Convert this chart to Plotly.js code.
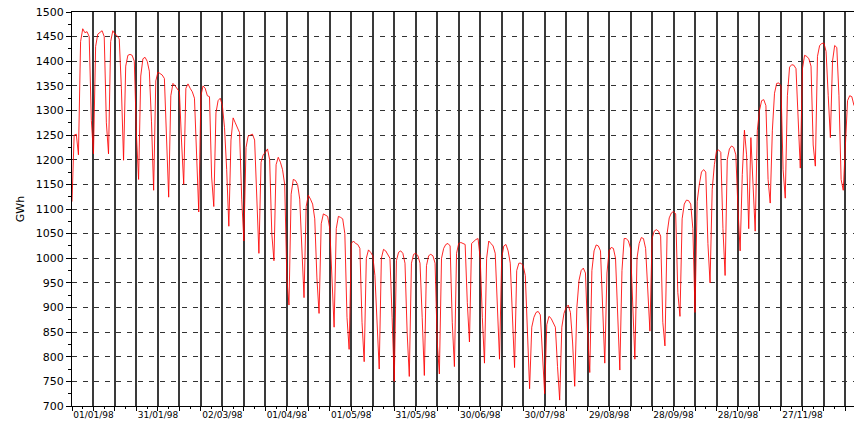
<!DOCTYPE html>
<html>
<head>
<meta charset="utf-8">
<script src="https://cdn.plot.ly/plotly-3.0.1.min.js"></script>
<style>
html,body{margin:0;padding:0;background:#fff;}
#chart{width:854px;height:421px;}
</style>
</head>
<body>
<div id="chart"></div>
<script>
// Daily electricity consumption (GWh).
// First value is 22/12/1997, one value per day.
const startDate = '1997-12-22';

const gwhDecMar = [
  1115,1250,1252,1210,
  1440,1466,1458,1460,1450,1280,1212,
  1430,1455,1458,1462,1450,1275,1212,
  1440,1462,1455,1452,1445,1344,1199,
  1390,1412,1414,1412,1400,1250,1160,
  1370,1405,1408,1400,1380,1277,1138,
  1360,1378,1375,1372,1365,1230,1124,
  1330,1355,1350,1345,1338,1236,1150,
  1345,1354,1345,1338,1325,1200,1094,
  1330,1350,1345,1330,1328,1165,1105,
  1295,1320,1325,1310,1265,1180,1065,
  1240,1285,1275,1265,1255,1120,1035,
  1225,1248,1250,1252,1240,1120,1010,
  1195,1210,1215,1222,1200,1050,995
];
const gwhAprJun = [
  1190,1205,1195,1180,1150,960,905,
  1130,1160,1158,1150,1120,1000,920,
  1105,1128,1120,1110,1080,960,888,
  1070,1090,1088,1085,1060,960,860,
  1060,1085,1083,1080,1050,880,815,
  1030,1035,1030,1028,1020,870,790,
  1000,1017,1012,1005,965,870,775,
  1000,1018,1015,1008,1000,880,750,
  995,1012,1015,1010,990,850,760,
  990,1008,1010,1005,990,880,762,
  985,1005,1008,1005,990,830,765,
  1000,1020,1028,1030,1025,870,780,
  1010,1030,1032,1030,1028,910,830
];
const gwhJulSep = [
  1030,1035,1038,1040,1000,880,787,
  1000,1035,1030,1025,1010,900,795,
  1000,1025,1028,1015,990,870,778,
  975,990,990,985,965,860,735,
  860,880,890,892,885,800,725,
  865,882,878,870,860,780,712,
  860,888,900,905,890,830,740,
  900,955,975,980,970,850,768,
  975,1015,1027,1025,1015,880,787,
  970,1015,1022,1020,1000,890,773,
  975,1040,1040,1035,1020,900,795,
  1000,1030,1042,1040,1020,920,852,
  1040,1055,1058,1055,1045,870,822
];
const gwhOctDec = [
  1050,1082,1092,1095,1090,930,882,
  1080,1110,1118,1117,1110,1060,890,
  1115,1150,1175,1180,1175,1030,950,
  1140,1190,1218,1220,1215,1060,965,
  1200,1222,1228,1225,1210,1100,1015,
  1170,1260,1210,1060,1245,1160,1055,
  1260,1300,1320,1322,1310,1160,1112,
  1260,1335,1355,1356,1350,1180,1122,
  1330,1388,1393,1392,1385,1280,1183,
  1385,1412,1410,1405,1390,1230,1187,
  1410,1432,1436,1437,1420,1330,1245,
  1400,1432,1428,1330,1160,1138,1230,1320,1330,1328,1310
];

const tickLabels = ['01/01/98','31/01/98','02/03/98','01/04/98','01/05/98','31/05/98',
                    '30/06/98','30/07/98','29/08/98','28/09/98','28/10/98','27/11/98'];

const yTickStep = 50;

// ---- build ----
const DAY = 86400000;
const t0 = Date.parse(startDate + 'T00:00:00Z');
function dayDate(i){ return new Date(t0 + i*DAY).toISOString().slice(0,10); }

const values = gwhDecMar.concat(gwhAprJun, gwhJulSep, gwhOctDec);
const dates = values.map((v,i) => dayDate(i));
const lastDay = values.length - 1;

// grid every 10 days, label every 30 days starting 01/01/98 (day 10)
const tickvals = [], ticktext = [];
for (let d = 0; d <= lastDay; d += 10) {
  tickvals.push(dayDate(d));
  const k = (d - 10) / 30;
  ticktext.push(d >= 10 && Number.isInteger(k) && k < tickLabels.length ? tickLabels[k] : '');
}

const trace = {
  x: dates, y: values, type: 'scatter', mode: 'lines',
  line: {color: 'rgba(255,0,0,0.85)', width: 1},
  hoverinfo: 'skip'
};

const layout = {
  width: 854, height: 421,
  margin: {l: 72, r: 0, t: 12, b: 15, pad: 0},
  paper_bgcolor: '#fff', plot_bgcolor: '#fff',
  showlegend: false,
  font: {family: 'DejaVu Sans, Arial, sans-serif', color: '#000'},
  xaxis: {
    type: 'date',
    range: [dayDate(0), dayDate(lastDay)],
    tickmode: 'array', tickvals: tickvals, ticktext: ticktext,
    showgrid: true, gridcolor: '#3a3a3a', gridwidth: 2,
    ticks: 'outside', ticklen: 4, tickcolor: '#000', tickwidth: 1,
    ticklabelstandoff: -4,
    showline: true, linecolor: '#000', linewidth: 1, mirror: true,
    zeroline: false, automargin: false,
    tickfont: {family: 'DejaVu Sans, Arial, sans-serif', size: 9, color: '#000'},
    minor: {ticks: 'outside', ticklen: 2, tickcolor: '#000', dtick: 5*DAY, tick0: startDate, showgrid: false}
  },
  yaxis: {
    range: [700, 1500],
    tickmode: 'linear', tick0: 700, dtick: yTickStep,
    showgrid: true, gridcolor: '#333', gridwidth: 1, griddash: '5px,6px',
    ticks: 'outside', ticklen: 5, tickcolor: '#000', tickwidth: 1,
    showline: true, linecolor: '#000', linewidth: 1,
    zeroline: false, automargin: false,
    tickfont: {family: 'DejaVu Sans, Arial, sans-serif', size: 11, color: '#000'},
    minor: {ticks: 'outside', ticklen: 3, tickcolor: '#000', dtick: yTickStep/2, showgrid: false},
    title: {text: 'GWh', font: {family: 'DejaVu Sans, Arial, sans-serif', size: 11, color: '#000'}, standoff: 8}
  }
};

Plotly.newPlot('chart', [trace], layout, {displayModeBar: false, staticPlot: true});
</script>
</body>
</html>
